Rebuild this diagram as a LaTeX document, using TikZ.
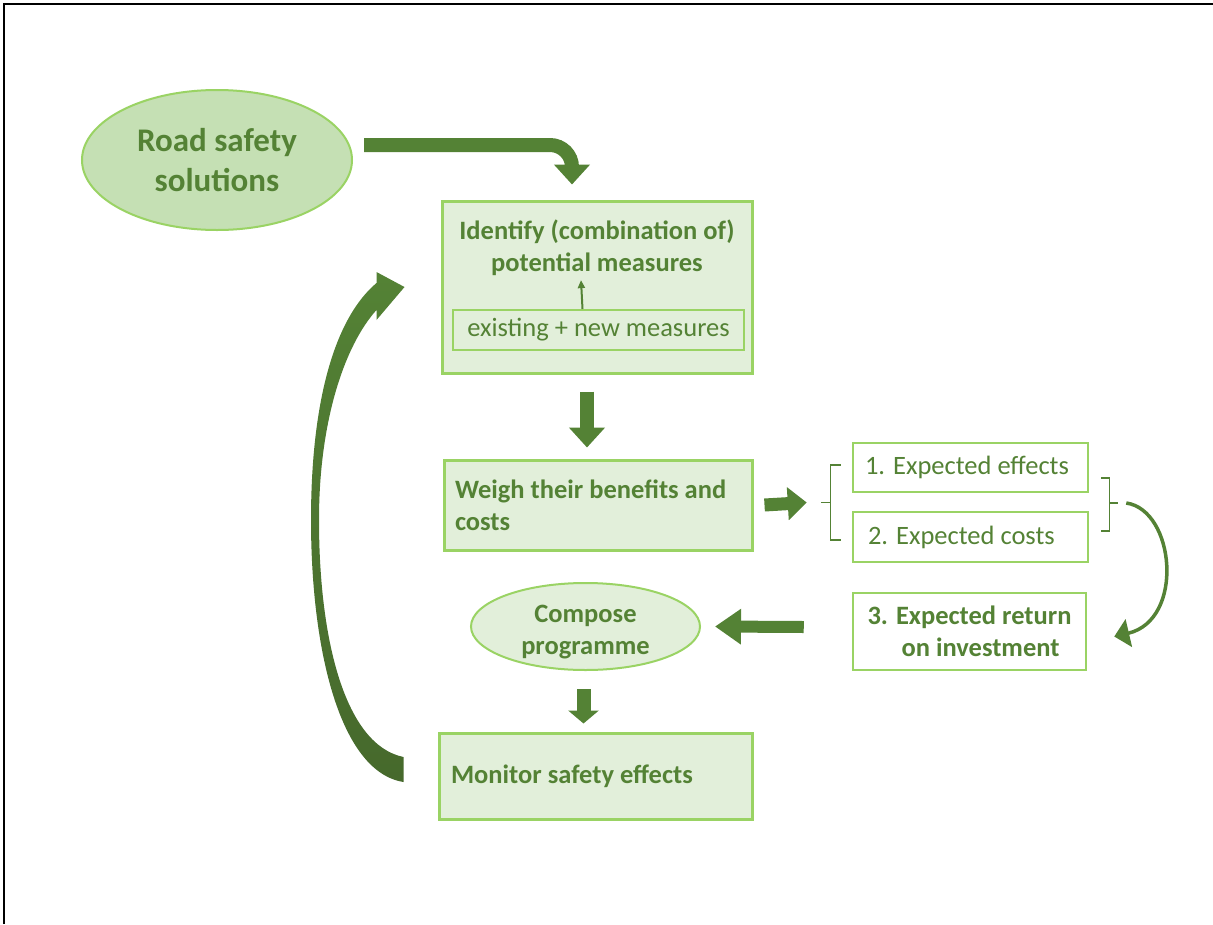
\documentclass[tikz,border=0pt]{standalone}
\usepackage{fontspec}
\setmainfont{Carlito}
\usetikzlibrary{arrows.meta,shapes.geometric,calc}
\definecolor{dkgreen}{HTML}{548235}
\definecolor{dkgreen2}{HTML}{46692C}
\definecolor{boxfill}{HTML}{E2EFDA}
\definecolor{boxline}{HTML}{9AD364}
\definecolor{ellfill}{HTML}{C5E0B4}
\begin{document}
\begin{tikzpicture}[x=1pt,y=-1pt,
  txt/.style={text=dkgreen,font=\fontsize{26.5}{32}\selectfont},
  btxt/.style={text=dkgreen,font=\fontsize{26.5}{32}\selectfont\bfseries},
  gbox/.style={draw=boxline,line width=3pt,fill=boxfill,rectangle,inner sep=0pt},
  wbox/.style={draw=boxline,line width=2.5pt,fill=white,rectangle,inner sep=0pt},
  gell/.style={draw=boxline,line width=2pt,ellipse,inner sep=0pt},
  blk/.style={draw=dkgreen,line width=14pt,-{Triangle[width=35pt,length=20pt]}},
  brk/.style={draw=dkgreen,line width=1.3pt}]
\useasboundingbox (0,0) rectangle (1213,924);
\draw[line width=2.2pt] (4,924) -- (4,4) -- (1213,4);

% nodes
\node[gell,fill=ellfill,minimum width=270pt,minimum height=140pt,align=center,
  text=dkgreen,font=\fontsize{33}{40}\selectfont\bfseries] (road) at (217,160) {Road safety\\solutions};
\node[gbox,minimum width=310pt,minimum height=172pt] (identify) at (597,287) {};
\node[btxt,align=center,inner sep=0pt] (idtitle) at (597,248) {Identify (combination of)\\potential measures};
\node[draw=boxline,line width=2pt,fill=boxfill,minimum width=291pt,minimum height=40pt,inner sep=0pt,txt] (existing) at (598.5,330) {existing + new measures};
\node[gbox,minimum width=308pt,minimum height=90pt,btxt,align=left] (weigh) at (598,505) {\makebox[286pt][l]{Weigh their benefits and}\\costs};
\node[wbox,minimum width=235pt,minimum height=49pt,txt] (eff) at (970.5,467.5) {\makebox[211pt][l]{1. Expected effects}};
\node[wbox,minimum width=235pt,minimum height=50pt,txt] (cost) at (970.5,537) {\makebox[205pt][l]{2. Expected costs}};
\node[wbox,minimum width=233pt,minimum height=77pt,btxt,align=center,text depth=0pt] (ret) at (969.5,631.5) {3. Expected return\\\hspace*{22pt}on investment};
\node[gell,fill=boxfill,minimum width=229pt,minimum height=87pt] (compose) at (585.5,626.5) {};
\node[btxt,align=center,inner sep=0pt] (composetxt) at ([yshift=-6pt]compose.center) {Compose\\programme};
\node[gbox,minimum width=313pt,minimum height=86pt,btxt] (monitor) at (595.5,776) {\makebox[289pt][l]{Monitor safety effects}};

% connectors
\draw[blk,rounded corners=22pt] ([xshift=11pt,yshift=15pt]road.east) -| ([xshift=-25pt,yshift=15pt]identify.north);
\draw[draw=dkgreen,line width=2pt,-{Triangle[width=7pt,length=8pt]}] ([xshift=-16pt]existing.north) -- ([xshift=-16pt,yshift=-4pt]idtitle.south);
\draw[blk] ([xshift=-10pt,yshift=-17pt]identify.south) -- ([xshift=-11pt,yshift=11pt]weigh.north);

% brackets
\coordinate (lb) at ([xshift=-31pt,yshift=-35pt]eff.west);
\draw[brk] ($(lb)+(20,-37.5)$) -- ($(lb)+(10,-37.5)$) -- ($(lb)+(10,37.5)$) -- ($(lb)+(20,37.5)$);
\draw[brk] (lb) -- ++(10,0);
\coordinate (rb) at ([xshift=20pt,yshift=-35.5pt]eff.east);
\draw[brk] ($(rb)+(-8,-25)$) -- ($(rb)+(0,-25)$) -- ($(rb)+(0,28)$) -- ($(rb)+(-8,28)$);
\draw[brk] (rb) -- ++(9,0);

\draw[blk,line width=13pt,-{Triangle[width=32pt,length=19pt]}] ([xshift=11pt]weigh.east) -- ([xshift=-14pt]lb);
\draw[draw=dkgreen,line width=3.5pt,-{Triangle[width=28pt,length=15pt]}] ([xshift=17pt]rb) .. controls (1175,510) and (1185,620) .. ([xshift=27pt,yshift=-5pt]ret.east);
\draw[blk,line width=12pt,-{Triangle[width=34pt,length=26pt]}] ([xshift=-48pt,yshift=4.5pt]ret.west) -- ([xshift=14pt]compose.east);
\draw[blk,-{Triangle[width=30pt,length=13pt]}] ([xshift=-2pt,yshift=-18pt]compose.south) -- ([xshift=-2pt,yshift=8pt]compose.south |- monitor.north);

% big curved return arrow (monitor -> identify)
\coordinate (bigtail) at ([xshift=-34pt]monitor.west);
\coordinate (bigtip) at ([xshift=-36pt]identify.west);
\shade[top color=dkgreen,bottom color=dkgreen2]
  ($(bigtail)+(0,6)$) .. controls (340,772) and (311,650) .. (311,520)
  .. controls (311,400) and (335,318) .. ($(bigtip)+(-28,-4)$)
  -- ($(bigtip)+(-28,-15)$) -- (bigtip) -- ($(bigtip)+(-28,33)$) -- ($(bigtip)+(-28,23)$)
  .. controls (345,345) and (319,420) .. (319,520)
  .. controls (319,640) and (345,745) .. ($(bigtail)+(0,-19)$) -- cycle;
\end{tikzpicture}
\end{document}
